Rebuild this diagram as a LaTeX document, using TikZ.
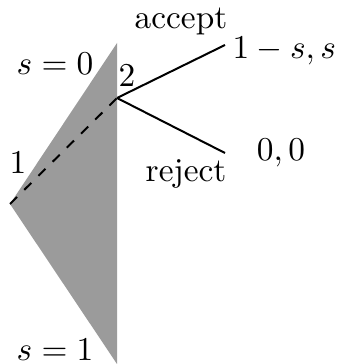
\documentclass[tikz,border=0pt]{standalone}
\begin{document}
\begin{tikzpicture}[x=0.3pt,y=-0.3pt,
  edge/.style={line width=0.6pt},
  lbl/.style={inner sep=0pt}]
\useasboundingbox (0,0) rectangle (339,364);
\definecolor{triGray}{RGB}{155,155,155}
\coordinate (L) at (10,204);
\coordinate (T) at (117,43);
\coordinate (B) at (117,364);
\coordinate (n2) at (117,98);
\coordinate (acc) at (225,45);
\coordinate (rej) at (225,153);
\fill[triGray] (L) -- (T) -- (B) -- cycle;
\draw[edge,dashed] (L) -- (n2);
\draw[edge] (n2) -- (acc);
\draw[edge] (n2) -- (rej);
\node[lbl] (taccept) at (181,21) {accept};
\node[lbl] (treject) at (186,174) {reject};
\node[lbl,anchor=west] (pay1) at (232,51) {$1-s,s$};
\node[lbl] (pay2) at (281,153) {$0,0$};
\node[lbl] (t2) at (127,75) {2};
\node[lbl] (t1) at (18,162) {1};
\node[lbl] (s0) at (55,64) {$s=0$};
\node[lbl] (s1) at (55,350) {$s=1$};
\end{tikzpicture}
\end{document}
